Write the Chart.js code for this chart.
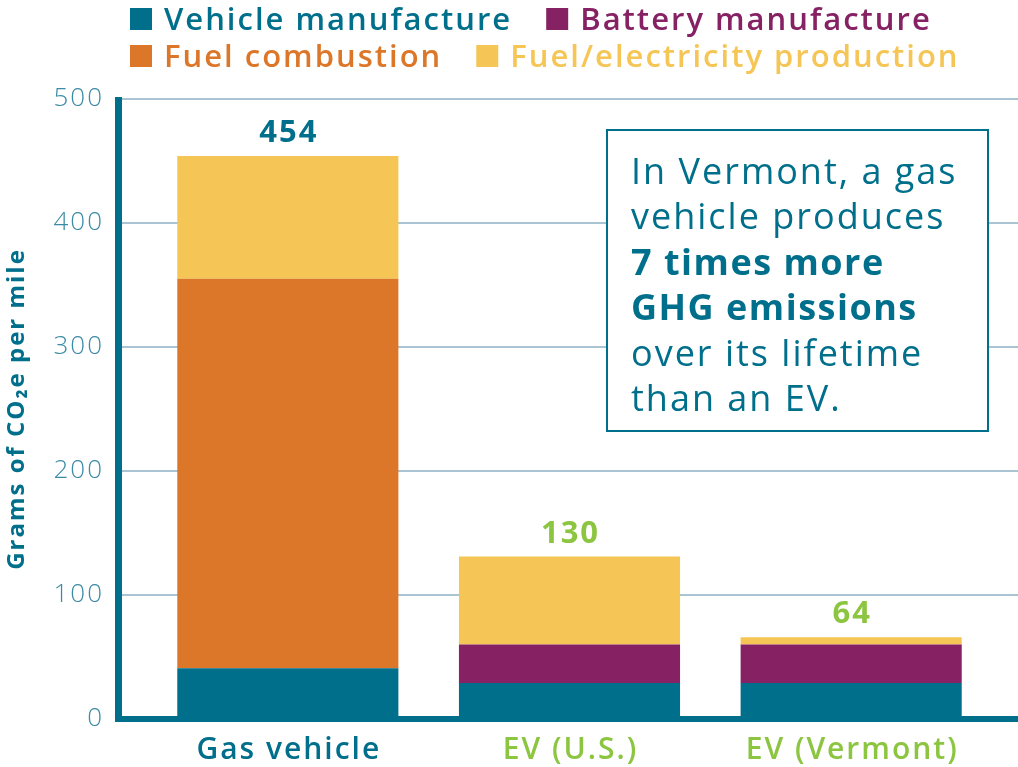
<!DOCTYPE html>
<html>
<head>
<meta charset="utf-8">
<script src="https://cdn.jsdelivr.net/npm/chart.js@4/dist/chart.umd.min.js"></script>
<style>
  html, body { margin: 0; padding: 0; background: #fff; overflow: hidden; }
  canvas { display: block; }
</style>
</head>
<body>
<canvas id="ghg" width="1018" height="767"></canvas>
<script>
// ---- data ----
const categories = ['Gas vehicle', 'EV (U.S.)', 'EV (Vermont)'];
const vehicleManufacture = [41, 29, 29];
const batteryManufacture = [0, 31, 31];
const fuelCombustion = [314, 0, 0];
const fuelProduction = [99, 71, 6];
const totalLabels = ['454', '130', '64'];
const yTicks = [0, 100, 200, 300, 400, 500];
const calloutLines = [
  ['In Vermont, a gas', false],
  ['vehicle produces', false],
  ['7 times more', true],
  ['GHG emissions', true],
  ['over its lifetime', false],
  ['than an EV.', false],
];

// ---- colours ----
const C = {
  teal: '#006f8b', purple: '#862163', orange: '#dc772a', yellow: '#f5c656',
  green: '#8cc540', grid: '#a9c5d3', tick: '#3a8ba5',
};
const FONT = '"Open Sans", Lato, sans-serif';

// the original typeface is wider, so space out the axis text a bit
const spacingPlugin = {
  id: 'spacing',
  beforeDraw(chart) { chart.ctx.letterSpacing = '2px'; },
  beforeDatasetsDraw(chart) { chart.ctx.letterSpacing = '0px'; }
};

// horizontal grid + heavy axis lines, full width like the original
const gridPlugin = {
  id: 'gridLines',
  beforeDatasetsDraw(chart) {
    const { ctx, scales: { y } } = chart;
    ctx.save();
    ctx.strokeStyle = C.grid;
    ctx.lineWidth = 2;
    yTicks.forEach(v => {
      const py = Math.round(y.getPixelForValue(v));
      ctx.beginPath(); ctx.moveTo(121, py); ctx.lineTo(1018, py); ctx.stroke();
    });
    ctx.restore();
  },
  afterDatasetsDraw(chart) {
    const { ctx, scales: { x, y } } = chart;
    const top = y.getPixelForValue(500), zero = y.getPixelForValue(0);
    ctx.save();
    ctx.fillStyle = C.teal;
    ctx.fillRect(115, top - 2, 7, zero - top + 5);
    ctx.fillRect(115, zero - 3, 1018 - 115, 6);
    // category labels under the axis
    ctx.font = `600 30px ${FONT}`;
    ctx.letterSpacing = '2px';
    ctx.textAlign = 'center';
    ctx.textBaseline = 'alphabetic';
    categories.forEach((c, i) => {
      ctx.fillStyle = i === 0 ? C.teal : C.green;
      ctx.fillText(c, x.getPixelForValue(i) + 1, zero + 40);
    });
    ctx.restore();
  }
};

// totals above each stack
const totalsPlugin = {
  id: 'totals',
  afterDatasetsDraw(chart) {
    const { ctx } = chart;
    const meta = chart.getDatasetMeta(chart.data.datasets.length - 1);
    ctx.save();
    ctx.font = `bold 31px ${FONT}`;
    ctx.letterSpacing = '2px';
    ctx.textAlign = 'center';
    ctx.textBaseline = 'alphabetic';
    meta.data.forEach((bar, i) => {
      ctx.fillStyle = i === 0 ? C.teal : C.green;
      ctx.fillText(totalLabels[i], bar.x + 1, bar.y - 14);
    });
    ctx.restore();
  }
};

// callout box on the right
const calloutPlugin = {
  id: 'callout',
  afterDatasetsDraw(chart) {
    const { ctx } = chart;
    ctx.save();
    ctx.fillStyle = '#fff';
    ctx.fillRect(606, 129, 383, 303);
    ctx.strokeStyle = C.teal;
    ctx.lineWidth = 2;
    ctx.strokeRect(607, 130, 381, 301);
    ctx.fillStyle = C.teal;
    ctx.textAlign = 'left';
    calloutLines.forEach(([txt, bold], i) => {
      ctx.font = `${bold ? 'bold' : 'normal'} 36px ${FONT}`;
      ctx.letterSpacing = bold ? '1.5px' : '2px';
      ctx.fillText(txt, 631, 184 + i * 45.4);
    });
    ctx.restore();
  }
};

// legend drawn as two flowing rows
const legendPlugin = {
  id: 'topLegend',
  afterDraw(chart) {
    const { ctx } = chart;
    const rows = [[0, 1], [2, 3]];
    ctx.save();
    ctx.font = `600 31px ${FONT}`;
    ctx.letterSpacing = '2px';
    ctx.textBaseline = 'alphabetic';
    rows.forEach((row, r) => {
      let x = 130;
      const y = 8 + r * 37;
      row.forEach(di => {
        const ds = chart.data.datasets[di];
        ctx.fillStyle = ds.backgroundColor;
        ctx.fillRect(x, y, 22, 22);
        ctx.fillText(ds.label, x + 34, y + 22);
        x += 34 + ctx.measureText(ds.label).width + 34;
      });
    });
    ctx.restore();
  }
};

const ctx = document.getElementById('ghg');
new Chart(ctx, {
  type: 'bar',
  data: {
    labels: categories,
    datasets: [
      { label: 'Vehicle manufacture', data: vehicleManufacture, backgroundColor: C.teal },
      { label: 'Battery manufacture', data: batteryManufacture, backgroundColor: C.purple },
      { label: 'Fuel combustion', data: fuelCombustion, backgroundColor: C.orange },
      { label: 'Fuel/electricity production', data: fuelProduction, backgroundColor: C.yellow },
    ].map(ds => ({ ...ds, borderWidth: 0, barPercentage: 0.785, categoryPercentage: 1 }))
  },
  options: {
    responsive: false,
    animation: false,
    layout: { padding: { top: 99, right: 26, left: 0, bottom: 48 } },
    plugins: { legend: { display: false }, tooltip: { enabled: false } },
    scales: {
      x: {
        stacked: true,
        grid: { display: false },
        border: { display: false },
        ticks: { display: false },
        afterFit: s => { s.height = 0; s.paddingLeft = 0; s.paddingRight = 0; },
      },
      y: {
        stacked: true,
        min: 0, max: 500,
        afterFit: s => { s.width = 147; s.paddingTop = 0; s.paddingBottom = 0; },
        afterBuildTicks: s => { s.ticks = yTicks.map(v => ({ value: v })); },
        grid: { display: false },
        border: { display: false },
        ticks: {
          padding: 35,
          color: C.tick,
          font: { family: FONT, size: 26, weight: '300' },
        },
        title: {
          display: true,
          text: 'Grams of CO₂e per mile',
          color: C.teal,
          padding: { top: 3, bottom: 0 },
          font: { family: FONT, size: 24, weight: 'bold' },
        }
      }
    }
  },
  plugins: [spacingPlugin, gridPlugin, totalsPlugin, calloutPlugin, legendPlugin]
});
</script>
</body>
</html>
